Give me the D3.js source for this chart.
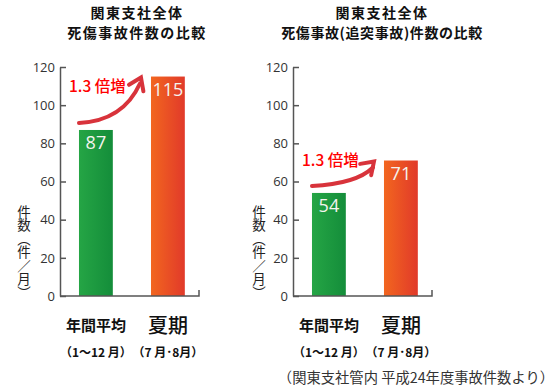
<!DOCTYPE html>
<html><head><meta charset="utf-8">
<script src="https://cdn.jsdelivr.net/npm/d3@7"></script>
<style>
html,body{margin:0;padding:0;background:#fff;}
svg{display:block;}
</style></head>
<body>
<svg id="c" width="555" height="391"></svg>
<script>
// ---- data ----
const categories = ["年間平均", "夏期"];
const periodLabels = ["（1～12 月）", "（7 月･8月）"];
const valuesAll = [87, 115];        // 死傷事故件数
const valuesRear = [54, 71];        // 死傷事故(追突事故)件数
const yTicks = [0, 20, 40, 60, 80, 100, 120];
const titleLine1 = ["関東支社全体", "関東支社全体"];
const titleLine2 = ["死傷事故件数の比較", "死傷事故(追突事故)件数の比較"];
const ratioLabels = ["1.3 倍増", "1.3 倍増"];
const yLabel = "件数（件／月）";
const footnote = "（関東支社管内 平成24年度事故件数より）";

const JP = "'Noto Sans CJK JP','Noto Sans',sans-serif";
const NUM = "'Open Sans','Liberation Sans',sans-serif";

const svg = d3.select("#c");
const defs = svg.append("defs");
const gG = defs.append("linearGradient").attr("id","gGreen").attr("x1","0").attr("x2","1").attr("y1","0").attr("y2","0");
gG.append("stop").attr("offset","0").attr("stop-color","#25a545");
gG.append("stop").attr("offset","1").attr("stop-color","#148d3a");
const gO = defs.append("linearGradient").attr("id","gOrange").attr("x1","0").attr("x2","1").attr("y1","0").attr("y2","0");
gO.append("stop").attr("offset","0").attr("stop-color","#f2661f");
gO.append("stop").attr("offset","1").attr("stop-color","#e13a2a");
const fills = ["url(#gGreen)", "url(#gOrange)"];

const panels = [
  {ax: 60, values: valuesAll, title1: titleLine1[0], title2: titleLine2[0], ls2: 1.5, ratio: ratioLabels[0], cx: 137, ylx: 23},
  {ax: 293, values: valuesRear, title1: titleLine1[1], title2: titleLine2[1], ls2: 0.6, ratio: ratioLabels[1], cx: 382, ylx: 258}
];

const y = d3.scaleLinear().domain([0, 120]).range([296, 67]);

panels.forEach(p => {
  const g = svg.append("g");
  const x = d3.scaleBand().domain(categories)
    .range([p.ax + 1.7, p.ax + 142.1]).paddingInner(0.53).paddingOuter(0.24);

  // titles
  g.append("text").attr("x", p.cx).attr("y", 18).attr("text-anchor","middle")
    .attr("font-family", JP).attr("font-weight","bold").attr("font-size",14)
    .attr("letter-spacing","1.5px").attr("fill","#111").text(p.title1);
  g.append("text").attr("x", p.cx).attr("y", 38).attr("text-anchor","middle")
    .attr("font-family", JP).attr("font-weight","bold").attr("font-size",14)
    .attr("letter-spacing", p.ls2 + "px").attr("fill","#111").text(p.title2);

  // bars
  g.selectAll("rect.bar").data(p.values).join("rect")
    .attr("x", (d,i) => x(categories[i]))
    .attr("y", d => y(d))
    .attr("width", x.bandwidth())
    .attr("height", d => y(0) - y(d))
    .attr("fill", (d,i) => fills[i]);

  // value labels
  g.selectAll("text.val").data(p.values).join("text")
    .attr("x", (d,i) => x(categories[i]) + x.bandwidth()/2)
    .attr("y", d => y(d) + 19)
    .attr("text-anchor","middle")
    .attr("font-family", NUM).attr("font-size",18)
    .attr("fill","#f4f4ee").text(d => d);

  // y axis
  const yAxis = d3.axisLeft(y).tickValues(yTicks).tickSizeInner(-6).tickSizeOuter(0).tickPadding(5);
  const ya = g.append("g").attr("transform", `translate(${p.ax},0)`).call(yAxis);
  ya.selectAll("path,line").attr("stroke","#555").attr("stroke-width",1.5);
  ya.selectAll("text").attr("font-family", NUM).attr("font-size",13).attr("fill","#333");

  // x axis line
  const x0 = p.ax, x1 = p.ax + 139;
  g.append("path").attr("d", `M${x0},${y(0)}H${x1}V${y(0)-6}`)
    .attr("fill","none").attr("stroke","#555").attr("stroke-width",1.5);

  // arrow
  const start = [x(categories[0]), y(p.values[0]) - 7];
  const tip = [x(categories[1]) - 10, y(p.values[1]) + 1];
  const shaftEnd = [tip[0] - 1, tip[1] + 6];
  const ctrl = [tip[0] - 18, start[1] - 2];
  g.append("path").attr("d", `M${start[0]},${start[1]}Q${ctrl[0]},${ctrl[1]} ${shaftEnd[0]},${shaftEnd[1]}`)
    .attr("fill","none").attr("stroke","#d8333b").attr("stroke-width",4).attr("stroke-linecap","round");
  const dx = shaftEnd[0] - ctrl[0], dy = shaftEnd[1] - ctrl[1];
  const ang = Math.atan2(dy, dx);
  const L = 14, spread = 0.6;
  const w1 = [tip[0] - L*Math.cos(ang - spread), tip[1] - L*Math.sin(ang - spread)];
  const w2 = [tip[0] - L*Math.cos(ang + spread), tip[1] - L*Math.sin(ang + spread)];
  g.append("path").attr("d", `M${w1[0]},${w1[1]}L${tip[0]},${tip[1]}L${w2[0]},${w2[1]}`)
    .attr("fill","none").attr("stroke","#d8333b").attr("stroke-width",4)
    .attr("stroke-linecap","round").attr("stroke-linejoin","miter");

  // ratio text
  g.append("text").attr("x", p.ax + 9).attr("y", (start[1] + tip[1]) / 2 - 8)
    .attr("font-family", JP).attr("font-weight",500).attr("font-size",15.5)
    .attr("fill","#ff0000").text(p.ratio);

  // y label (vertical)
  g.append("text").attr("x", p.ylx + 1).attr("y", 205)
    .attr("font-family", JP).attr("font-size",13.5).attr("fill","#222")
    .style("writing-mode","vertical-rl")
    .text(yLabel);

  // category labels
  g.selectAll("text.cat").data(categories).join("text")
    .attr("x", d => x(d) + x.bandwidth()/2)
    .attr("y", (d,i) => i === 0 ? 331 : 333)
    .attr("text-anchor","middle")
    .attr("font-family", JP)
    .attr("font-weight", (d,i) => i === 0 ? "bold" : 500)
    .attr("font-size", (d,i) => i === 0 ? 15 : 20)
    .attr("fill","#111").text(d => d);

  g.selectAll("text.per").data(periodLabels).join("text")
    .attr("x", (d,i) => x(categories[i]) + x.bandwidth()/2)
    .attr("y", 357)
    .attr("text-anchor","middle")
    .attr("font-family", JP).attr("font-weight","bold").attr("font-size",12)
    .attr("fill","#111").text(d => d);
});

svg.append("text").attr("x", 554).attr("y", 383).attr("text-anchor","end")
  .attr("font-family", JP).attr("font-size",14.3).attr("fill","#333").text(footnote);
</script>
</body></html>
